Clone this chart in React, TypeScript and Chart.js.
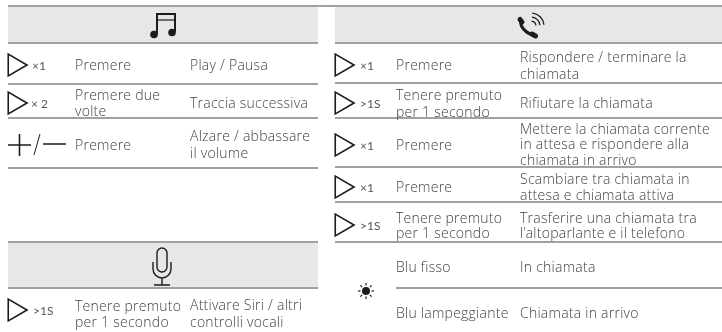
import React, { useEffect, useRef } from "react";
import { Chart, registerables } from "chart.js";

Chart.register(...registerables);

const FONT = '300 14px "Open Sans", Lato, sans-serif';
const TAG_FONT = '400 12px Lato, sans-serif';
const INK = "#3f3f3f";
const TAG_INK = "#555555";
const DARK = "#1c1c1c";
const RULE = "#808285";
const BAND = "#e6e7e8";
const TEXT_NUDGE = 1;

// bands: x0, x1, y0, y1
const bands = [
  [8, 318, 7, 42],
  [335, 722, 7, 42],
  [8, 318, 243, 287],
];
// rules: x0, x1, y
const rules = [
  [8, 722, 6],
  [8, 318, 43],
  [8, 318, 84],
  [8, 318, 118],
  [8, 318, 168],
  [8, 318, 242],
  [8, 318, 288],
  [335, 722, 43],
  [335, 722, 83],
  [335, 722, 118],
  [335, 722, 167],
  [335, 722, 202],
  [335, 722, 242],
  [396, 722, 288],
];

const triangleX = [14.5, 14.5, 14.5, 341.5, 341.5, 341.5, 341.5, 341.5];
const triangleY = [65, 103, 310, 65, 103, 145, 187, 225];
const tagTexts = ["×1", "× 2", ">1S", "×1", ">1S", "×1", "×1", ">1S"];
const tagX = [32, 31, 33, 360, 360, 360, 360, 360];

const leftTexts = [
  "Premere", "Premere due", "volte", "Premere", "Tenere premuto", "per 1 secondo",
];
const leftTextY = [65, 95, 111, 145, 306, 322];
const leftResults = [
  "Play / Pausa", "Traccia successiva", "Alzare / abbassare", "il volume",
  "Attivare Siri / altri", "controlli vocali",
];
const leftResultY = [65, 103, 136, 153, 305, 322];
const rightTexts = [
  "Premere", "Tenere premuto", "per 1 secondo", "Premere", "Premere",
  "Tenere premuto", "per 1 secondo", "Blu fisso", "Blu lampeggiante",
];
const rightTextY = [65, 95, 112, 145, 187, 218, 233, 267, 313];
const rightResults = [
  "Rispondere / terminare la", "chiamata", "Rifiutare la chiamata",
  "Mettere la chiamata corrente", "in attesa e rispondere alla", "chiamata in arrivo",
  "Scambiare tra chiamata in", "attesa e chiamata attiva",
  "Trasferire una chiamata tra", "l’altoparlante e il telefono",
  "In chiamata", "Chiamata in arrivo",
];
const rightResultY = [57, 74, 103, 129, 144, 160, 179, 195, 218, 233, 267, 313];

const tablePlugin = {
  id: "table",
  beforeDatasetsDraw(chart: any) {
    const { ctx, scales } = chart;
    const X = (v: number) => scales.x.getPixelForValue(v);
    const Y = (v: number) => scales.y.getPixelForValue(v);
    ctx.save();
    bands.forEach(([a, b, c, d]) => {
      ctx.fillStyle = BAND;
      ctx.fillRect(X(a), Y(c), X(b) - X(a), Y(d) - Y(c));
    });
    ctx.strokeStyle = RULE;
    ctx.lineWidth = 1.3;
    rules.forEach(([a, b, y]) => {
      ctx.beginPath();
      ctx.moveTo(X(a), Y(y));
      ctx.lineTo(X(b), Y(y));
      ctx.stroke();
    });
    ctx.textBaseline = "middle";
    ctx.fillStyle = INK;
    ctx.font = FONT;
    ctx.letterSpacing = "0.25px";
    const col = (texts: string[], ys: number[], x: number) =>
      texts.forEach((t, i) => ctx.fillText(t, X(x), Y(ys[i] + TEXT_NUDGE)));
    col(leftTexts, leftTextY, 75);
    col(leftResults, leftResultY, 190);
    col(rightTexts, rightTextY, 396);
    col(rightResults, rightResultY, 520);
    ctx.letterSpacing = "0px";
    ctx.font = TAG_FONT;
    ctx.fillStyle = TAG_INK;
    tagTexts.forEach((t, i) => ctx.fillText(t, X(tagX[i]), Y(triangleY[i] + TEXT_NUDGE)));

    // +/- glyph
    ctx.strokeStyle = DARK;
    ctx.lineWidth = 1.6;
    ctx.beginPath();
    ctx.moveTo(X(8), Y(145)); ctx.lineTo(X(31), Y(145));
    ctx.moveTo(X(19.5), Y(134)); ctx.lineTo(X(19.5), Y(156));
    ctx.moveTo(X(43), Y(144)); ctx.lineTo(X(66), Y(144));
    ctx.stroke();
    ctx.lineWidth = 1;
    ctx.beginPath();
    ctx.moveTo(X(34), Y(155)); ctx.lineTo(X(40), Y(134));
    ctx.stroke();

    // music
    ctx.lineWidth = 2;
    ctx.beginPath();
    ctx.moveTo(X(157), Y(34)); ctx.lineTo(X(157), Y(14)); ctx.lineTo(X(175), Y(14)); ctx.lineTo(X(175), Y(32));
    ctx.stroke();
    ctx.lineWidth = 1.2;
    ctx.beginPath();
    ctx.moveTo(X(157), Y(20)); ctx.lineTo(X(175), Y(20));
    ctx.stroke();
    ctx.fillStyle = DARK;
    [[154, 34.5], [172, 32.5]].forEach(([x, y]) => {
      ctx.beginPath(); ctx.arc(X(x), Y(y), 3.8, 0, Math.PI * 2); ctx.fill();
    });

    // mic
    ctx.lineWidth = 1.4;
    ctx.beginPath();
    ctx.roundRect(X(157), Y(248), 10, 24, 5);
    ctx.stroke();
    ctx.beginPath();
    ctx.arc(X(162), Y(269), 9, 0, Math.PI);
    ctx.moveTo(X(153), Y(262)); ctx.lineTo(X(153), Y(269));
    ctx.moveTo(X(171), Y(262)); ctx.lineTo(X(171), Y(269));
    ctx.moveTo(X(162), Y(278)); ctx.lineTo(X(162), Y(285));
    ctx.moveTo(X(154), Y(285)); ctx.lineTo(X(170), Y(285));
    ctx.stroke();

    // phone
    ctx.lineCap = "round";
    ctx.lineWidth = 3;
    ctx.beginPath();
    ctx.moveTo(X(520.5), Y(20));
    ctx.quadraticCurveTo(X(520), Y(31), X(535), Y(36));
    ctx.stroke();
    ctx.lineWidth = 5;
    ctx.beginPath();
    ctx.moveTo(X(520), Y(19.5)); ctx.lineTo(X(522), Y(22));
    ctx.moveTo(X(532), Y(34)); ctx.lineTo(X(535.5), Y(36));
    ctx.stroke();
    ctx.lineWidth = 1.3;
    ctx.lineCap = "butt";
    [5, 9, 13].forEach((r) => {
      ctx.beginPath();
      ctx.arc(X(531), Y(26), r, -Math.PI / 2 + 0.1, -0.1);
      ctx.stroke();
    });

    // LED sun
    const sx = X(366), sy = Y(291);
    ctx.beginPath(); ctx.arc(sx, sy, 4, 0, Math.PI * 2); ctx.fill();
    ctx.lineWidth = 1.2;
    for (let i = 0; i < 8; i++) {
      const a = (i * Math.PI) / 4;
      ctx.beginPath();
      ctx.moveTo(sx + Math.cos(a) * 5.5, sy + Math.sin(a) * 5.5);
      ctx.lineTo(sx + Math.cos(a) * 8, sy + Math.sin(a) * 8);
      ctx.stroke();
    }
    ctx.restore();
  },
};

export default function App() {
  const ref = useRef<HTMLCanvasElement>(null);
  useEffect(() => {
    const chart = new Chart(ref.current!, {
      type: "scatter",
      data: {
        datasets: [
          {
            data: triangleX.map((x, i) => ({ x, y: triangleY[i] })),
            pointStyle: "triangle",
            rotation: 90,
            radius: 12.5,
            borderWidth: 1.6,
            borderColor: DARK,
            backgroundColor: "rgba(0,0,0,0)",
          },
        ],
      },
      options: {
        animation: false,
        responsive: false,
        layout: { padding: 0, autoPadding: false },
        plugins: { legend: { display: false }, tooltip: { enabled: false } },
        scales: {
          x: { type: "linear", min: 0, max: 722, display: false },
          y: { type: "linear", min: 0, max: 332, reverse: true, display: false },
        },
      },
      plugins: [tablePlugin],
    } as any);
    return () => chart.destroy();
  }, []);
  return (
    <div style={{ position: "fixed", left: 0, top: 0, width: 722, height: 332, background: "#fff" }}>
      <canvas ref={ref} width={722} height={332} style={{ display: "block" }} />
    </div>
  );
}
